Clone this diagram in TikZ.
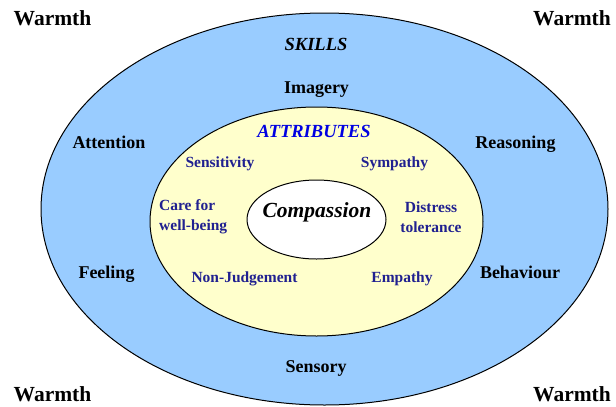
\documentclass[tikz,border=0pt]{standalone}
\usepackage{fontspec}
\setmainfont{Liberation Serif}
\usetikzlibrary{positioning, shapes.geometric}
\definecolor{skillblue}{RGB}{153,204,255}
\definecolor{attryellow}{RGB}{255,255,204}
\definecolor{attrnavy}{RGB}{32,32,144}
\definecolor{attrblue}{RGB}{0,0,225}

\tikzset{
	ring/.style = {ellipse, draw=black, line width=1pt, inner sep=0pt},
	warmth/.style = {font=\fontsize{21.5}{24}\selectfont\bfseries, anchor=base},
	skill/.style = {font=\fontsize{18}{21}\selectfont\bfseries, anchor=base},
	attr/.style = {font=\fontsize{15.5}{20}\selectfont\bfseries, text=attrnavy, anchor=base},
	heading/.style = {font=\fontsize{18.5}{21}\selectfont\bfseries\itshape, anchor=base},
}

\begin{document}
\begin{tikzpicture}[x=1pt, y=-1pt]
	\useasboundingbox (0,0) rectangle (616,407);
	% the three rings
	\node[ring, fill=skillblue, minimum width=567pt, minimum height=392pt] (skills) at (324.5,209) {};
	\node[ring, fill=attryellow, minimum width=333pt, minimum height=229pt] (attributes) at (316.5,221.5) {};
	\node[ring, fill=white, minimum width=139pt, minimum height=79pt] (core) at (316.5,219.5) {};
	\node[font=\fontsize{21.5}{24}\selectfont\bfseries\itshape, anchor=base] (compassion) at (317,217) {Compassion};

	% corners
	\node[warmth] (warmthNW) at (52.5,25) {Warmth};
	\node[warmth] (warmthNE) at (572,25) {Warmth};
	\node[warmth] (warmthSW) at (52.5,401) {Warmth};
	\node[warmth] (warmthSE) at (572,401) {Warmth};

	% skills
	\node[heading] (skillsTitle) at (316,50) {SKILLS};
	\node[skill] (imagery) at (316.5,93) {Imagery};
	\node[skill] (attention) at (109,148) {Attention};
	\node[skill] (reasoning) at (515.5,148) {Reasoning};
	\node[skill] (feeling) at (106.5,278) {Feeling};
	\node[skill] (behaviour) at (520,278) {Behaviour};
	\node[skill] (sensory) at (316,372) {Sensory};

	% attributes
	\node[heading, text=attrblue] (attrTitle) at (314,137) {ATTRIBUTES};
	\node[attr] (sensitivity) at (220,167) {Sensitivity};
	\node[attr] (sympathy) at (394.5,167) {Sympathy};
	\node[attr, anchor=west, align=left, inner sep=0pt] (care) at (159,217) {Care for\\well-being};
	\node[attr, anchor=center, align=center, inner sep=0pt] (distress) at (431,217) {Distress\\tolerance};
	\node[attr] (nonjudgement) at (244.5,282) {Non-Judgement};
	\node[attr] (empathy) at (402,282) {Empathy};
\end{tikzpicture}
\end{document}
